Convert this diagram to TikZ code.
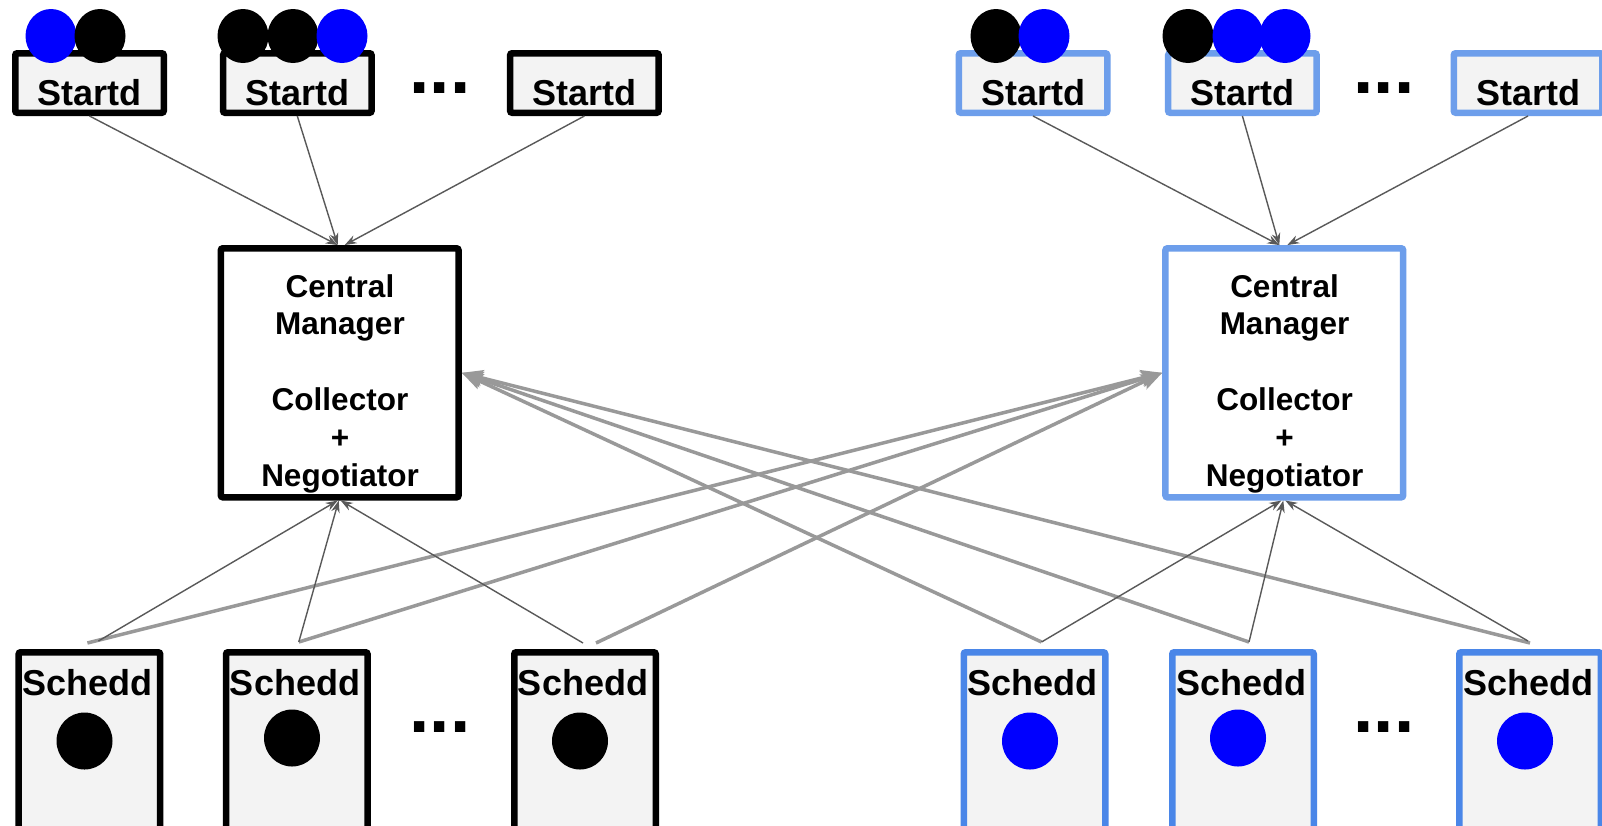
\documentclass[tikz,border=0pt]{standalone}
\usepackage{fontspec}
\setmainfont{Liberation Sans}
\usetikzlibrary{arrows.meta}
\definecolor{boxfill}{HTML}{F3F3F3}
\definecolor{paleblue}{HTML}{6D9EEB}
\definecolor{midblue}{HTML}{4A86E8}
\definecolor{jobblue}{HTML}{0000FF}
\definecolor{thinline}{HTML}{595959}
\definecolor{thickline}{HTML}{999999}
\begin{document}
\begin{tikzpicture}[x=1pt,y=-1pt,
  daemon/.style={draw, line width=6.5pt, fill=boxfill, rounded corners=2pt, inner sep=0pt},
  startdbox/.style={daemon, minimum width=148.5pt, minimum height=59.5pt},
  scheddbox/.style={daemon, minimum width=141.5pt, minimum height=200pt},
  cmbox/.style={draw, line width=6.5pt, fill=white, rounded corners=2pt, inner sep=0pt,
                minimum width=237.7pt, minimum height=249pt},
  lbl/.style={font=\bfseries\fontsize{36}{36}\selectfont, anchor=base, inner sep=0pt},
  cmlbl/.style={font=\bfseries\fontsize{31.5}{37.8}\selectfont, align=center, anchor=north, inner sep=0pt},
  more/.style={font=\bfseries\fontsize{73}{73}\selectfont, anchor=base, inner sep=0pt},
  report/.style={draw=thinline, line width=1.4pt, -{Stealth[length=12pt,width=8.5pt]}},
  flock/.style={draw=thickline, line width=3.5pt, -{Stealth[length=21pt,width=16pt,inset=4pt]}},
  jobb/.style={fill=black},
  jobc/.style={fill=jobblue}
]
\clip (0,0) rectangle (1602,825);
\fill[white] (0,0) rectangle (1602,825);

% ---- left pool: startds ----
\node[startdbox] (a1) at (89.5,83) {};
\node[startdbox] (a2) at (297.3,83) {};
\node[startdbox] (a3) at (584.4,83) {};
\node[lbl] (a1t) at (89.5,105) {Startd};
\node[lbl] (a2t) at (297.3,105) {Startd};
\node[lbl] (a3t) at (584.4,105) {Startd};
\node[more] (adots) at (440,93.5) {...};

% ---- right pool: startds ----
\node[startdbox, draw=paleblue] (b1) at (1033,83) {};
\node[startdbox, draw=paleblue] (b2) at (1242.4,83) {};
\node[startdbox, draw=paleblue] (b3) at (1528,83) {};
\node[lbl] (b1t) at (1033,105) {Startd};
\node[lbl] (b2t) at (1242.4,105) {Startd};
\node[lbl] (b3t) at (1528,105) {Startd};
\node[more] (bdots) at (1384,93.5) {...};

% jobs running on the startds
\path[jobc] (51,36) ellipse [x radius=25.5pt, y radius=27pt];
\path[jobb] (100,36) ellipse [x radius=25.5pt, y radius=27pt];
\path[jobb] (243,36) ellipse [x radius=25.5pt, y radius=27pt];
\path[jobb] (293,36) ellipse [x radius=25.5pt, y radius=27pt];
\path[jobc] (342,36) ellipse [x radius=25.5pt, y radius=27pt];
\path[jobb] (996,36) ellipse [x radius=25.5pt, y radius=27pt];
\path[jobc] (1044,36) ellipse [x radius=25.5pt, y radius=27pt];
\path[jobb] (1188,36) ellipse [x radius=25.5pt, y radius=27pt];
\path[jobc] (1238,36) ellipse [x radius=25.5pt, y radius=27pt];
\path[jobc] (1285,36) ellipse [x radius=25.5pt, y radius=27pt];

% ---- central managers ----
\node[cmbox] (cmL) at (339.7,372.8) {};
\node[cmbox, draw=paleblue] (cmR) at (1284.3,372.8) {};
\node[cmlbl] (cmLt) at (340,274) {Central\\Manager\\[37.8pt]Collector\\+\\Negotiator};
\node[cmlbl] (cmRt) at (1284.5,274) {Central\\Manager\\[37.8pt]Collector\\+\\Negotiator};

% ---- schedds ----
\node[scheddbox] (s1) at (89.4,752.25) {};
\node[scheddbox] (s2) at (296.8,752.25) {};
\node[scheddbox] (s3) at (585,752.25) {};
\node[scheddbox, draw=midblue] (r1) at (1034.5,752.25) {};
\node[scheddbox, draw=midblue] (r2) at (1243,752.25) {};
\node[scheddbox, draw=midblue] (r3) at (1530,752.25) {};
\node[lbl] (s1t) at (87.5,695) {Schedd};
\node[lbl] (s2t) at (295,695) {Schedd};
\node[lbl] (s3t) at (583,695) {Schedd};
\node[lbl] (r1t) at (1032.5,695) {Schedd};
\node[lbl] (r2t) at (1241,695) {Schedd};
\node[lbl] (r3t) at (1528,695) {Schedd};
\node[more] (sdots) at (440,732.5) {...};
\node[more] (rdots) at (1384,732.5) {...};

\path[jobb] (84.5,741) ellipse [x radius=28pt, y radius=28.5pt];
\path[jobb] (292,738) ellipse [x radius=28pt, y radius=28.5pt];
\path[jobb] (580,741) ellipse [x radius=28pt, y radius=28.5pt];
\path[jobc] (1030,741) ellipse [x radius=28pt, y radius=28.5pt];
\path[jobc] (1238,738) ellipse [x radius=28pt, y radius=28.5pt];
\path[jobc] (1525,741) ellipse [x radius=28pt, y radius=28.5pt];

% connector end points above the schedds
\coordinate (s1a) at ([xshift=9pt,yshift=8pt]s1.north);
\coordinate (s1b) at ([xshift=-2pt,yshift=6pt]s1.north);
\coordinate (s2a) at ([xshift=2pt,yshift=7pt]s2.north);
\coordinate (s3a) at ([xshift=-2pt,yshift=6pt]s3.north);
\coordinate (s3b) at ([xshift=11pt,yshift=6pt]s3.north);
\coordinate (r1a) at ([xshift=7pt,yshift=7pt]r1.north);
\coordinate (r2a) at ([xshift=6pt,yshift=7pt]r2.north);
\coordinate (r3a) at ([xshift=-2pt,yshift=8pt]r3.north);
\coordinate (r3b) at ([yshift=6pt]r3.north);

% flocking: schedds advertise to the other pool's central manager
\draw[flock] (s1b) -- (cmR.west);
\draw[flock] (s2a) -- (cmR.west);
\draw[flock] (s3b) -- (cmR.west);
\draw[flock] (r1a) -- (cmL.east);
\draw[flock] (r2a) -- (cmL.east);
\draw[flock] (r3b) -- (cmL.east);

% startds report to their own central manager
\draw[report] (a1.south) -- ([xshift=-2pt]cmL.north);
\draw[report] (a2.south) -- ([xshift=-2pt]cmL.north);
\draw[report] (a3.south) -- ([xshift=5pt]cmL.north);
\draw[report] (b1.south) -- ([xshift=-5pt]cmR.north);
\draw[report] (b2.south) -- ([xshift=-5pt]cmR.north);
\draw[report] (b3.south) -- ([xshift=3pt]cmR.north);

% schedds report to their own central manager
\draw[report] (s1a) -- ([xshift=-2pt]cmL.south);
\draw[report] (s2a) -- ([xshift=-1pt]cmL.south);
\draw[report] (s3a) -- ([xshift=1pt]cmL.south);
\draw[report] (r1a) -- ([xshift=-3pt]cmR.south);
\draw[report] (r2a) -- ([xshift=-1pt]cmR.south);
\draw[report] (r3a) -- ([xshift=1pt]cmR.south);
\end{tikzpicture}
\end{document}
